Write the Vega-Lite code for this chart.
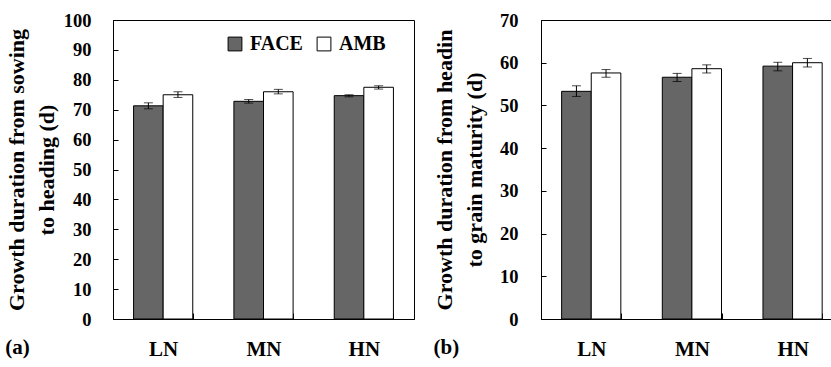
{
  "$schema": "https://vega.github.io/schema/vega-lite/v6.json",
  "background": "white",
  "padding": {"left": 4, "top": 10, "right": 0, "bottom": 0},
  "spacing": 17,
  "config": {
    "font": "Liberation Serif",
    "view": {"stroke": "black", "strokeWidth": 1},
    "axis": {
      "labelFont": "Liberation Serif",
      "labelFontWeight": "bold",
      "labelColor": "black",
      "labelOverlap": false,
      "titleFont": "Liberation Serif",
      "titleFontWeight": "bold",
      "titleColor": "black",
      "domainColor": "black",
      "tickColor": "black",
      "tickWidth": 1,
      "grid": false
    },
    "title": {
      "font": "Liberation Serif",
      "fontWeight": "bold",
      "fontSize": 21,
      "color": "black"
    }
  },
  "datasets": {
    "sowing_to_heading": [
      {"N": "LN", "trt": "FACE", "value": 71.3, "lo": 70.3, "hi": 72.3},
      {"N": "LN", "trt": "AMB", "value": 75.0, "lo": 74.1, "hi": 76.0},
      {"N": "MN", "trt": "FACE", "value": 72.8, "lo": 72.2, "hi": 73.4},
      {"N": "MN", "trt": "AMB", "value": 76.0, "lo": 75.3, "hi": 76.8},
      {"N": "HN", "trt": "FACE", "value": 74.7, "lo": 74.3, "hi": 75.0},
      {"N": "HN", "trt": "AMB", "value": 77.5, "lo": 76.9, "hi": 78.0}
    ],
    "heading_to_maturity": [
      {"N": "LN", "trt": "FACE", "value": 53.3, "lo": 52.1, "hi": 54.6},
      {"N": "LN", "trt": "AMB", "value": 57.6, "lo": 56.6, "hi": 58.4},
      {"N": "MN", "trt": "FACE", "value": 56.6, "lo": 55.6, "hi": 57.5},
      {"N": "MN", "trt": "AMB", "value": 58.6, "lo": 57.6, "hi": 59.5},
      {"N": "HN", "trt": "FACE", "value": 59.2, "lo": 58.1, "hi": 60.1},
      {"N": "HN", "trt": "AMB", "value": 60.0, "lo": 59.0, "hi": 61.0}
    ]
  },
  "resolve": {"scale": {"fill": "independent"}, "legend": {"fill": "independent"}},
  "hconcat": [
    {
      "width": 301,
      "height": 299,
      "data": {"name": "sowing_to_heading"},
      "title": {"text": "(a)", "orient": "bottom", "anchor": "start", "frame": "bounds", "baseline": "top", "offset": -22},
      "encoding": {
        "x": {
          "field": "N", "type": "nominal", "sort": ["LN", "MN", "HN"],
          "scale": {"paddingInner": 0.41, "paddingOuter": 0.205},
          "axis": {"title": null, "labelAngle": 0, "labelFontSize": 21, "tickBand": "extent", "tickSize": -6, "labelPadding": 25}
        },
        "xOffset": {
          "field": "trt", "type": "nominal", "sort": ["FACE", "AMB"],
          "scale": {"paddingInner": 0, "paddingOuter": 0}
        }
      },
      "layer": [
        {
          "mark": {"type": "bar", "stroke": "black", "strokeWidth": 1},
          "encoding": {
            "y": {
              "field": "value", "type": "quantitative",
              "scale": {"domain": [0, 100], "nice": false},
              "axis": {
                "title": ["Growth duration from sowing", "to heading (d)"],
                "values": [0, 10, 20, 30, 40, 50, 60, 70, 80, 90, 100],
                "tickCount": 11, "labelOverlap": false,
                "tickSize": -5, "labelPadding": 27, "labelFontSize": 18.5,
                "titleFontSize": 22, "titleLineHeight": 30, "titlePadding": 5
              }
            },
            "fill": {
              "field": "trt", "type": "nominal",
              "scale": {"domain": ["FACE", "AMB"], "range": ["#666666", "white"]},
              "legend": {
                "orient": "none", "legendX": 112, "legendY": 14, "direction": "horizontal",
                "title": null, "symbolType": "square", "symbolSize": 190,
                "symbolStrokeColor": "black", "symbolStrokeWidth": 1,
                "labelFont": "Liberation Serif", "labelFontWeight": "bold", "labelFontSize": 20,
                "labelColor": "black", "labelOffset": 5, "columnPadding": 11
              }
            }
          }
        },
        {
          "mark": {"type": "rule", "color": "black", "strokeWidth": 1},
          "encoding": {
            "y": {"field": "lo", "type": "quantitative"},
            "y2": {"field": "hi"}
          }
        },
        {
          "mark": {"type": "tick", "color": "black", "thickness": 1, "size": 9, "orient": "horizontal"},
          "encoding": {"y": {"field": "lo", "type": "quantitative"}}
        },
        {
          "mark": {"type": "tick", "color": "black", "thickness": 1, "size": 9, "orient": "horizontal"},
          "encoding": {"y": {"field": "hi", "type": "quantitative"}}
        }
      ]
    },
    {
      "width": 291,
      "height": 299,
      "data": {"name": "heading_to_maturity"},
      "title": {"text": "(b)", "orient": "bottom", "anchor": "start", "frame": "bounds", "baseline": "top", "offset": -22},
      "encoding": {
        "x": {
          "field": "N", "type": "nominal", "sort": ["LN", "MN", "HN"],
          "scale": {"paddingInner": 0.41, "paddingOuter": 0.205, "range": [0, 302]},
          "axis": {"title": null, "labelAngle": 0, "labelFontSize": 21, "tickBand": "extent", "tickSize": -6, "labelPadding": 25}
        },
        "xOffset": {
          "field": "trt", "type": "nominal", "sort": ["FACE", "AMB"],
          "scale": {"paddingInner": 0, "paddingOuter": 0}
        }
      },
      "layer": [
        {
          "mark": {"type": "bar", "stroke": "black", "strokeWidth": 1},
          "encoding": {
            "y": {
              "field": "value", "type": "quantitative",
              "scale": {"domain": [0, 70], "nice": false},
              "axis": {
                "title": ["Growth duration from headin", "to grain maturity (d)"],
                "values": [0, 10, 20, 30, 40, 50, 60, 70],
                "tickCount": 8, "labelOverlap": false,
                "tickSize": -5, "labelPadding": 28, "labelFontSize": 18.5,
                "titleFontSize": 22, "titleLineHeight": 30, "titlePadding": 13
              }
            },
            "fill": {
              "field": "trt", "type": "nominal",
              "scale": {"domain": ["FACE", "AMB"], "range": ["#666666", "white"]},
              "legend": null
            }
          }
        },
        {
          "mark": {"type": "rule", "color": "black", "strokeWidth": 1},
          "encoding": {
            "y": {"field": "lo", "type": "quantitative"},
            "y2": {"field": "hi"}
          }
        },
        {
          "mark": {"type": "tick", "color": "black", "thickness": 1, "size": 9, "orient": "horizontal"},
          "encoding": {"y": {"field": "lo", "type": "quantitative"}}
        },
        {
          "mark": {"type": "tick", "color": "black", "thickness": 1, "size": 9, "orient": "horizontal"},
          "encoding": {"y": {"field": "hi", "type": "quantitative"}}
        }
      ]
    }
  ]
}
